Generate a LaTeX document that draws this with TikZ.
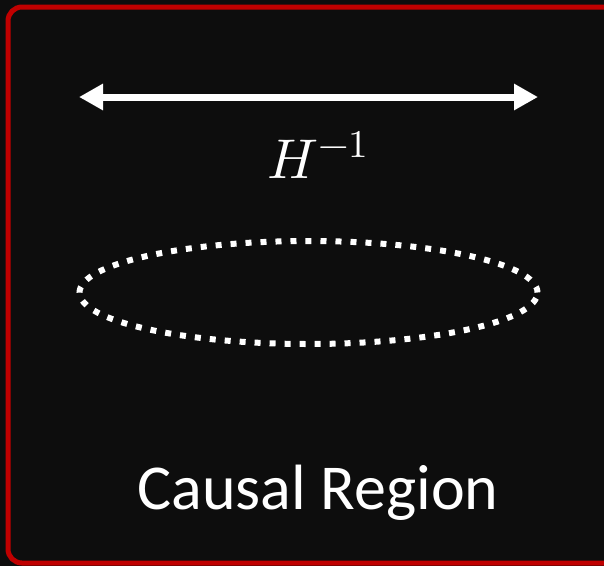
\documentclass[tikz,border=0pt]{standalone}
\usepackage{fontspec}
\usepackage{unicode-math}
\setmainfont{Carlito}
\setmathfont{Latin Modern Math}
\usetikzlibrary{arrows.meta}
\definecolor{bgdark}{HTML}{0D0D0D}
\definecolor{framered}{HTML}{C00000}

\begin{document}
\begin{tikzpicture}[x=1pt,y=-1pt]
    \fill[bgdark] (0,0) rectangle (604,566);
    \useasboundingbox (0,0) rectangle (604,566);
    \draw[framered,line width=5pt,rounded corners=14pt] (8,7) rectangle (625,563);

    \coordinate (left) at (79,97);
    \coordinate (right) at (538,97);
    \draw[white,line width=7pt,{Triangle[length=24pt,width=25pt]}-{Triangle[length=24pt,width=25pt]}] (left) -- (right);
    \node[white,font=\fontsize{56}{66}\selectfont] (hubble) at (318,155) {$H^{-1}$};

    \coordinate (centre) at (308.5,292.5);
    \draw[white,line width=6pt,dash pattern=on 6pt off 9pt] (centre) ellipse [x radius=229pt,y radius=51.5pt];

    \node[white,font=\fontsize{64}{76}\selectfont] (region) at (318,493) {Causal Region};
\end{tikzpicture}
\end{document}
